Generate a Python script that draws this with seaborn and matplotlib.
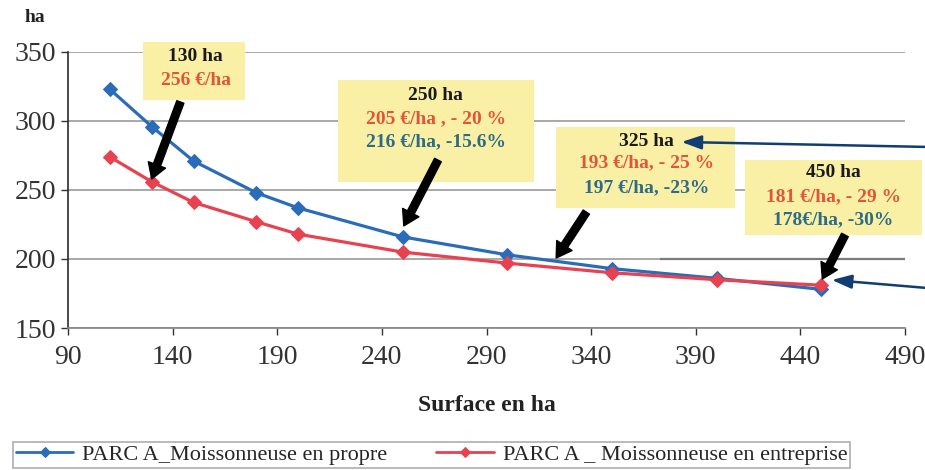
import matplotlib
matplotlib.use("Agg")
import matplotlib.pyplot as plt
import seaborn as sns
import pandas as pd
from matplotlib.patches import Rectangle

surface = [110, 130, 150, 180, 200, 250, 300, 350, 400, 450]
cout_propre = [323, 296, 271, 248, 237, 216, 203, 193, 186, 178]
cout_entreprise = [274, 256, 241, 227, 218, 205, 197, 190, 185, 181]
serie_propre = "PARC A_Moissonneuse en propre"
serie_entreprise = "PARC A _ Moissonneuse en entreprise"
x_ticks = [90, 140, 190, 240, 290, 340, 390, 440, 490]
y_ticks = [150, 200, 250, 300, 350]

df = pd.concat([
    pd.DataFrame({"Surface": surface, "Cout": cout_propre, "Serie": serie_propre}),
    pd.DataFrame({"Surface": surface, "Cout": cout_entreprise, "Serie": serie_entreprise}),
])

sns.set_theme(style="white")
plt.rcParams["font.family"] = ["Liberation Serif", "DejaVu Serif"]

BLUE = "#2B6CB8"
RED = "#E8414F"
YELLOW = "#F9F0A6"
RED_TXT = "#E2553A"
TEAL_TXT = "#2E6B88"
NAVY = "#123D73"

fig = plt.figure(figsize=(9.25, 4.7), dpi=100)
ax = fig.add_axes([68 / 925, 1 - 328 / 470, (905 - 68) / 925, (328 - 52) / 470])

sns.lineplot(data=df, x="Surface", y="Cout", hue="Serie", style="Serie",
             palette={serie_propre: BLUE, serie_entreprise: RED},
             markers={serie_propre: "D", serie_entreprise: "D"},
             dashes=False, markersize=7, linewidth=2.3, ax=ax, legend=True)
for ln in ax.lines:
    ln.set_markeredgecolor(ln.get_color())

ax.set_xlim(90, 490)
ax.set_ylim(150, 350)
ax.set_xticks(x_ticks)
ax.set_yticks(y_ticks)
ax.tick_params(axis="both", labelsize=20, colors="#333333", length=5, width=1,
               direction="out", bottom=True, left=True)
ax.tick_params(axis="x", pad=7)
ax.yaxis.grid(True, color="#9a9a9a", linewidth=1.2)
ax.set_axisbelow(True)
for s in ["top", "right"]:
    ax.spines[s].set_visible(False)
ax.spines["left"].set_color("#333333")
ax.spines["bottom"].set_color("#888888")
ax.hlines(200, 373, 491, color="#7a7a7a", linewidth=1.6, zorder=1)

ax.set_xlabel("Surface en ha", fontsize=17, fontweight="bold", color="#222222", labelpad=18)
ax.set_ylabel("")
fig.text(25 / 925, 1 - 18 / 470, "ha", fontsize=14, fontweight="bold", color="#222222",
         va="center", ha="left")

# legend
h, l = ax.get_legend_handles_labels()
ax.get_legend().remove()
for hd in h:
    hd.set_markeredgecolor(hd.get_color())
    hd.set_linewidth(2)
leg = fig.legend(h, l, loc="upper left", bbox_to_anchor=(13 / 925, 1 - 442 / 470), ncol=2,
                 fontsize=16, frameon=True, fancybox=False, edgecolor="#999999",
                 handlelength=2.6, columnspacing=2.2, borderpad=0.12, handletextpad=0.4,
                 borderaxespad=0, markerscale=0.7)
leg.get_frame().set_linewidth(1.2)

# annotation boxes
boxes = [
    (125.9, 315.2, 174.8, 357.2, 151, [("130 ha", "#1a1a1a", 346.4), ("256 €/ha", RED_TXT, 329.7)]),
    (218.9, 255.8, 312.8, 329.7, 265.8, [("250 ha", "#1a1a1a", 318.8),
                                         ("205 €/ha , - 20 %", RED_TXT, 301.4),
                                         ("216 €/ha, -15.6%", TEAL_TXT, 284.8)]),
    (323.3, 237.0, 408.6, 295.7, 366.4, [("325 ha", "#1a1a1a", 284.8),
                                         ("193 €/ha, - 25 %", RED_TXT, 269.6),
                                         ("197 €/ha, -23%", TEAL_TXT, 251.4)]),
    (413.4, 217.4, 498.1, 271.7, 455.8, [("450 ha", "#1a1a1a", 263.0),
                                         ("181 €/ha, - 29 %", RED_TXT, 244.9),
                                         ("178€/ha, -30%", TEAL_TXT, 228.3)]),
]
for x0, y0, x1, y1, xc, lines in boxes:
    ax.add_patch(Rectangle((x0, y0), x1 - x0, y1 - y0, facecolor=YELLOW, edgecolor="none",
                           zorder=4, clip_on=False))
    for txt, col, yy in lines:
        ax.text(xc, yy, txt, color=col, fontsize=14, fontweight="bold", ha="center",
                va="center", zorder=5, clip_on=False)

# black arrows
black_arrows = [
    ((143.7, 313.8), (surface[1], cout_entreprise[1] + 2)),
    ((266.8, 271.7), (250.5, 224)),
    ((337.7, 234.0), (323.3, 200.7)),
    ((461.3, 217.4), (450.5, 185.5)),
]
for start, end in black_arrows:
    ax.annotate("", xy=end, xytext=start, xycoords="data", textcoords="data",
                annotation_clip=False, zorder=6,
                arrowprops=dict(arrowstyle="simple,head_width=1.1,head_length=0.9,tail_width=0.45",
                                fc="black", ec="black", mutation_scale=12, shrinkA=0, shrinkB=0))

# navy arrows
navy_arrows = [
    ((500.5, 281.2), (383.2, 284.8)),
    ((500.5, 179.0), (455.0, 184.8)),
]
for start, end in navy_arrows:
    ax.annotate("", xy=end, xytext=start, xycoords="data", textcoords="data",
                annotation_clip=False, zorder=6,
                arrowprops=dict(arrowstyle="-|>,head_width=0.35,head_length=1.0",
                                color=NAVY, lw=1.8, shrinkA=0, shrinkB=0))

fig.savefig("out.png", dpi=100)
